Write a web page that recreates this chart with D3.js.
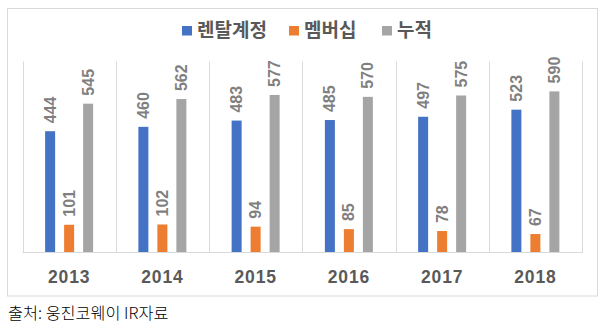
<!DOCTYPE html>
<html>
<head>
<meta charset="utf-8">
<script src="https://cdn.jsdelivr.net/npm/d3@7/dist/d3.min.js"></script>
<style>
  html, body { margin: 0; padding: 0; background: #fff; }
  svg { display: block; }
</style>
</head>
<body>
<svg id="chart" width="607" height="329"></svg>
<script>
// Chart data
const years = ["2013", "2014", "2015", "2016", "2017", "2018"];
const seriesNames = ["렌탈계정", "멤버십", "누적"];
const rentalAccounts = [444, 460, 483, 485, 497, 523];
const memberships = [101, 102, 94, 85, 78, 67];
const cumulative = [545, 562, 577, 570, 575, 590];
const seriesColors = ["#4472C4", "#ED7D31", "#A5A5A5"];
const sourceNote = "출처: 웅진코웨이 IR자료";

const seriesValues = [rentalAccounts, memberships, cumulative];

const svg = d3.select("#chart");
const plot = { left: 22.5, right: 582, top: 61.4, bottom: 252.3 };

// Outer frame
svg.append("rect")
  .attr("x", 7.5).attr("y", 8.5)
  .attr("width", 590).attr("height", 287.5)
  .attr("fill", "#fff")
  .attr("stroke", "#d9d9d9").attr("stroke-width", 1);

const x0 = d3.scaleBand().domain(years).range([plot.left, plot.right]).padding(0);
const x1 = d3.scaleBand().domain(seriesNames).range([0, x0.bandwidth()])
  .paddingInner(9 / 19).paddingOuter(1.191);
const y = d3.scaleLinear().domain([0, 700]).range([plot.bottom, plot.top]);

// Category separators
const edges = years.map(d => x0(d)).concat([plot.right]);
svg.append("g").selectAll("line").data(edges).join("line")
  .attr("x1", d => Math.round(d) + 0.5).attr("x2", d => Math.round(d) + 0.5)
  .attr("y1", plot.top).attr("y2", plot.bottom)
  .attr("stroke", "#d9d9d9").attr("stroke-width", 1);

// Bars with rotated value labels
const groups = svg.append("g").selectAll("g").data(years).join("g")
  .attr("transform", d => `translate(${x0(d)},0)`);

groups.each(function (yr, i) {
  const g = d3.select(this);
  const rows = seriesNames.map((s, k) => ({ s, k, v: seriesValues[k][i] }));
  g.selectAll("rect").data(rows).join("rect")
    .attr("x", d => x1(d.s))
    .attr("y", d => y(d.v))
    .attr("width", x1.bandwidth())
    .attr("height", d => y(0) - y(d.v))
    .attr("fill", d => seriesColors[d.k]);
  g.selectAll("text").data(rows).join("text")
    .attr("transform", d => `translate(${x1(d.s) + x1.bandwidth() / 2},${y(d.v) - 8}) rotate(-90)`)
    .attr("text-anchor", "start")
    .attr("dominant-baseline", "central")
    .attr("font-family", "'Liberation Sans', Arial, sans-serif")
    .attr("font-weight", "bold")
    .attr("font-size", 16)
    .attr("fill", "#7f7f7f")
    .text(d => d.v);
});

// Baseline
svg.append("line")
  .attr("x1", plot.left).attr("x2", plot.right + 1)
  .attr("y1", Math.round(plot.bottom) + 0.5).attr("y2", Math.round(plot.bottom) + 0.5)
  .attr("stroke", "#d9d9d9").attr("stroke-width", 1);

// Year labels
const xAxis = d3.axisBottom(x0).tickSize(0).tickPadding(0);
const axisG = svg.append("g").attr("transform", `translate(0,${plot.bottom})`).call(xAxis);
axisG.select(".domain").remove();
axisG.selectAll("text")
  .attr("y", 31)
  .attr("dy", 0)
  .attr("font-family", "'Liberation Sans', Arial, sans-serif")
  .attr("font-weight", "bold")
  .attr("font-size", 17.5)
  .attr("letter-spacing", 0.8)
  .attr("fill", "#595959");

// Legend
const legendX = [182, 289, 382];
const legend = svg.append("g").selectAll("g").data(seriesNames).join("g")
  .attr("transform", (d, i) => `translate(${legendX[i]},26)`);
legend.append("rect")
  .attr("width", 10).attr("height", 9.5)
  .attr("fill", (d, i) => seriesColors[i]);
legend.append("text")
  .attr("x", 15).attr("y", 11)
  .attr("font-family", "'Noto Sans CJK KR', sans-serif")
  .attr("font-weight", "bold")
  .attr("font-size", 19)
  .attr("fill", "#595959")
  .text(d => d);

// Source note
svg.append("text")
  .attr("x", 8).attr("y", 319)
  .attr("font-family", "'Noto Sans CJK KR', sans-serif")
  .attr("font-weight", 300)
  .attr("font-size", 16.3)
  .attr("fill", "#000")
  .text(sourceNote);
</script>
</body>
</html>
